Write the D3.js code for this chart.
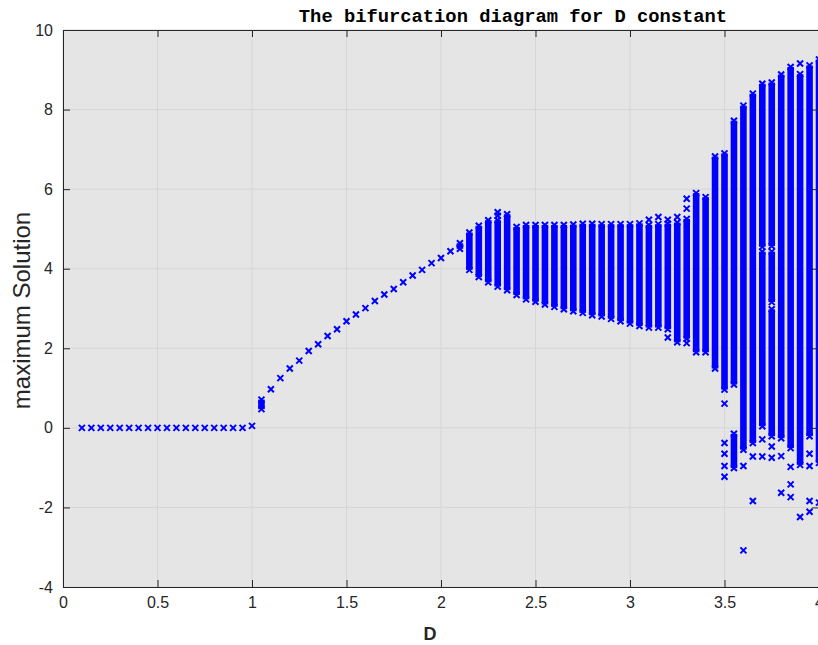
<!DOCTYPE html>
<html>
<head>
<meta charset="utf-8">
<script src="https://cdn.jsdelivr.net/npm/d3@7/dist/d3.min.js"></script>
<style>
  html, body { margin: 0; padding: 0; background: #ffffff; }
  svg { display: block; }
</style>
</head>
<body>
<svg id="chart" width="818" height="645"></svg>
<script>
// ---- data ----
const titleText = "The bifurcation diagram for D constant";
const xLabel = "D";
const yLabel = "maximum Solution";
const xTicks = [0, 0.5, 1, 1.5, 2, 2.5, 3, 3.5, 4];
const xTickLabels = ["0", "0.5", "1", "1.5", "2", "2.5", "3", "3.5", "4"];
const yTicks = [-4, -2, 0, 2, 4, 6, 8, 10];
const yTickLabels = ["-4", "-2", "0", "2", "4", "6", "8", "10"];

// single maxima (one marker each)
const pointD = [
  0.10, 0.15, 0.20, 0.25, 0.30, 0.35, 0.40, 0.45, 0.50, 0.55,
  0.60, 0.65, 0.70, 0.75, 0.80, 0.85, 0.90, 0.95, 1.00,
  1.10, 1.15, 1.20, 1.25, 1.30, 1.35, 1.40, 1.45, 1.50, 1.55,
  1.60, 1.65, 1.70, 1.75, 1.80, 1.85, 1.90, 1.95, 2.00, 2.05,
  2.30, 2.30, 3.10, 3.15, 3.20, 3.20, 3.25, 3.30, 3.30, 3.30,
  3.50, 3.50, 3.50, 3.50, 3.50,
  3.60, 3.60, 3.65, 3.65, 3.70, 3.70, 3.75, 3.75, 3.80, 3.80,
  3.85, 3.85, 3.85, 3.90, 3.90, 3.95, 3.95, 3.95, 3.95, 4.00
];
const pointY = [
  0, 0, 0, 0, 0, 0, 0, 0, 0, 0,
  0, 0, 0, 0, 0, 0, 0, 0, 0.05,
  0.97, 1.25, 1.49, 1.69, 1.93, 2.10, 2.31, 2.48, 2.68, 2.85,
  3.01, 3.19, 3.35, 3.49, 3.66, 3.83, 3.97, 4.14, 4.27, 4.44,
  5.42, 5.33, 5.23, 5.30, 5.23, 2.27, 5.30, 5.76, 5.51, 2.13,
  0.61, -0.38, -0.65, -0.96, -1.23,
  -0.96, -3.08, -0.72, -1.84, -0.29, -0.72, -0.47, -0.75, -0.71, -1.63,
  -0.98, -1.42, -1.74, 9.16, -2.24, -0.65, -0.96, -1.84, -2.11, -1.88
];

// dense runs of maxima (D, lowest, highest)
const bandD  = [1.05, 2.10, 2.15, 2.20, 2.25, 2.30, 2.35, 2.40, 2.45, 2.50,
                2.55, 2.60, 2.65, 2.70, 2.75, 2.80, 2.85, 2.90, 2.95, 3.00,
                3.05, 3.10, 3.15, 3.20, 3.25, 3.30, 3.35, 3.40, 3.45, 3.50,
                3.55, 3.55, 3.60, 3.65, 3.70, 3.70, 3.75, 3.75, 3.75, 3.80,
                3.85, 3.90, 3.95, 4.00];
const bandLo = [0.47, 4.50, 3.97, 3.79, 3.66, 3.55, 3.46, 3.34, 3.23, 3.17,
                3.10, 3.04, 2.98, 2.93, 2.89, 2.83, 2.80, 2.74, 2.68, 2.62,
                2.56, 2.52, 2.52, 2.48, 2.15, 2.24, 1.90, 1.90, 1.49, 0.96,
                1.09, -1.01, -0.55, -0.38, 0.04, 4.55, -0.21, 3.16, 4.57, -0.26,
                -0.51, -0.93, -0.21, -0.88];
const bandHi = [0.71, 4.64, 4.91, 5.08, 5.22, 5.22, 5.37, 5.05, 5.10, 5.10,
                5.10, 5.10, 5.10, 5.11, 5.13, 5.13, 5.12, 5.12, 5.12, 5.12,
                5.14, 5.10, 5.12, 5.13, 5.16, 5.25, 5.90, 5.80, 6.82, 6.90,
                7.72, -0.15, 8.10, 8.40, 4.43, 8.65, 2.98, 4.43, 8.68, 8.88,
                9.07, 8.89, 9.11, 9.26];

// ---- layout ----
const svg = d3.select("#chart");
const mL = 63, mR = 819, mT = 30, mB = 587;
const x = d3.scaleLinear().domain([0, 4]).range([mL, mR]);
const y = d3.scaleLinear().domain([-4, 10]).range([mB, mT]);
const axisColor = "#262626";
const blue = "#0000ff";
const font = "'Liberation Sans', Arial, Helvetica, sans-serif";

// background
svg.append("rect").attr("x", mL).attr("y", mT)
  .attr("width", mR - mL).attr("height", mB - mT)
  .attr("fill", "#e5e5e5");

// grid
const grid = svg.append("g");
grid.selectAll("line.gx").data(xTicks).join("line")
  .attr("x1", d => x(d)).attr("x2", d => x(d))
  .attr("y1", mT).attr("y2", mB)
  .attr("stroke", "#d6d6d6").attr("stroke-width", 1);
grid.selectAll("line.gy").data(yTicks).join("line")
  .attr("y1", d => y(d)).attr("y2", d => y(d))
  .attr("x1", mL).attr("x2", mR)
  .attr("stroke", "#d6d6d6").attr("stroke-width", 1);

// data
const plot = svg.append("g");
const bands = bandD.map((d, i) => ({ d, lo: bandLo[i], hi: bandHi[i] }));
const pts = pointD.map((d, i) => ({ d, v: pointY[i] }));
const mk = 3;
const xPath = `M${-mk},${-mk}L${mk},${mk}M${-mk},${mk}L${mk},${-mk}`;

plot.selectAll("rect.band").data(bands).join("rect")
  .attr("x", b => x(b.d) - 3.3).attr("width", 6.6)
  .attr("y", b => y(b.hi)).attr("height", b => y(b.lo) - y(b.hi))
  .attr("fill", blue);

const ends = [];
bands.forEach(b => { ends.push({ d: b.d, v: b.hi }); ends.push({ d: b.d, v: b.lo }); });
plot.selectAll("path.end").data(ends).join("path")
  .attr("d", xPath)
  .attr("transform", p => `translate(${x(p.d)},${y(p.v)})`)
  .attr("fill", "none").attr("stroke", blue).attr("stroke-width", 2);

plot.selectAll("path.pt").data(pts).join("path")
  .attr("d", xPath)
  .attr("transform", p => `translate(${x(p.d)},${y(p.v)})`)
  .attr("fill", "none").attr("stroke", blue).attr("stroke-width", 2);

// axes box
const ax = svg.append("g");
const xAxisB = d3.axisBottom(x).tickValues(xTicks).tickSizeInner(-7).tickSizeOuter(0).tickFormat((d, i) => xTickLabels[i]).tickPadding(10);
const xAxisT = d3.axisTop(x).tickValues(xTicks).tickSizeInner(-7).tickSizeOuter(0).tickFormat("");
const yAxisL = d3.axisLeft(y).tickValues(yTicks).tickSizeInner(-7).tickSizeOuter(0).tickFormat((d, i) => yTickLabels[i]).tickPadding(10);
const yAxisR = d3.axisRight(y).tickValues(yTicks).tickSizeInner(-7).tickSizeOuter(0).tickFormat("");

function style(g) {
  g.select(".domain").attr("stroke", axisColor).attr("stroke-width", 1);
  g.selectAll(".tick line").attr("stroke", axisColor).attr("stroke-width", 1);
  g.selectAll(".tick text").attr("fill", axisColor)
    .style("font-family", font).style("font-size", "16px");
}
ax.append("g").attr("transform", `translate(0,${mB})`).call(xAxisB).call(style);
ax.append("g").attr("transform", `translate(0,${mT})`).call(xAxisT).call(style);
ax.append("g").attr("transform", `translate(${mL},0)`).call(yAxisL).call(style);
ax.append("g").attr("transform", `translate(${mR},0)`).call(yAxisR).call(style);

// labels
svg.append("text").text(titleText)
  .attr("x", 513).attr("y", 22).attr("text-anchor", "middle")
  .style("font-family", "'Liberation Mono', 'Courier New', monospace")
  .style("font-weight", "bold").style("font-size", "18.8px").attr("fill", "#000");

svg.append("text").text(xLabel)
  .attr("x", x(2) - 11).attr("y", 640).attr("text-anchor", "middle")
  .style("font-family", font).style("font-weight", "bold")
  .style("font-size", "18px").attr("fill", axisColor);

svg.append("text").text(yLabel)
  .attr("transform", `translate(30,${(mT + mB) / 2 + 2}) rotate(-90)`)
  .attr("text-anchor", "middle")
  .style("font-family", font).style("font-size", "24px").attr("fill", axisColor);
</script>
</body>
</html>
